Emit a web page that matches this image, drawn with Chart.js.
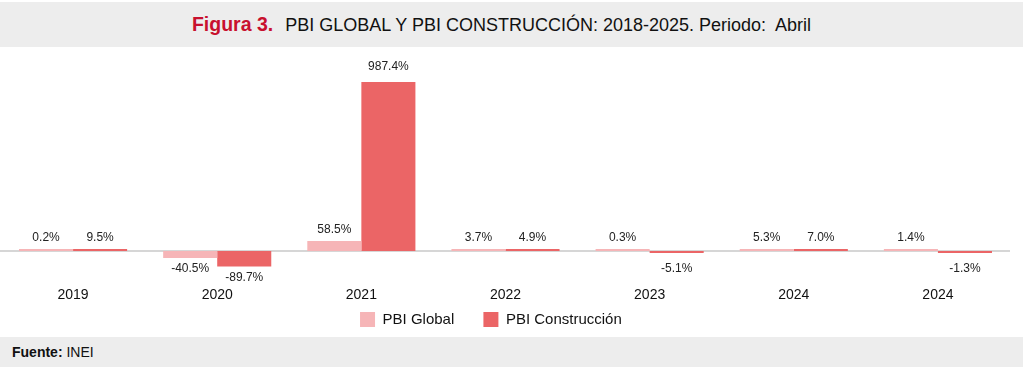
<!DOCTYPE html>
<html>
<head>
<meta charset="utf-8">
<script src="https://cdn.jsdelivr.net/npm/chart.js@4/dist/chart.umd.min.js"></script>
<style>
  html, body { margin: 0; padding: 0; background: #fff; width: 1023px; height: 367px; overflow: hidden; font-family: "Liberation Sans", Arial, sans-serif; }
  #title { position: absolute; left: 0; top: 2px; width: 1003px; padding-right: 20px; height: 45px; background: #ededed; text-align: center; line-height: 45px; font-size: 18px; color: #111; white-space: nowrap; }
  #title .fig { font-weight: bold; color: #c8102e; font-size: 19.5px; margin-right: 12px; }
  #wrap { position: absolute; left: 0; top: 47px; width: 1023px; height: 290px; }
  #footer { position: absolute; left: 0; top: 337px; width: 1023px; height: 30px; background: #ededed; font-size: 14px; line-height: 30px; color: #111; }
  #footer span { margin-left: 12px; }
</style>
</head>
<body>
<div id="title"><span class="fig">Figura 3.</span>PBI GLOBAL Y PBI CONSTRUCCIÓN: 2018-2025. Periodo:&nbsp; Abril</div>
<div id="wrap"><canvas id="c" width="1023" height="290"></canvas></div>
<div id="footer"><span><b>Fuente:</b> INEI</span></div>
<script>
const categories = ["2019", "2020", "2021", "2022", "2023", "2024", "2024"];
const pbiGlobal = [0.2, -40.5, 58.5, 3.7, 0.3, 5.3, 1.4];
const pbiConstruccion = [9.5, -89.7, 987.4, 4.9, -5.1, 7.0, -1.3];
const seriesNames = ["PBI Global", "PBI Construcción"];

const labelPlugin = {
  id: 'valueLabels',
  beforeDatasetsDraw(chart) {
    const ctx = chart.ctx;
    const y0 = chart.scales.y.getPixelForValue(0);
    ctx.save();
    ctx.strokeStyle = '#c8c8c8';
    ctx.lineWidth = 1.5;
    ctx.beginPath();
    ctx.moveTo(0, y0);
    ctx.lineTo(chart.chartArea.right, y0);
    ctx.stroke();
    ctx.restore();
  },
  afterDatasetsDraw(chart) {
    const ctx = chart.ctx;
    const y0 = chart.scales.y.getPixelForValue(0);
    ctx.save();
    ctx.font = '12px "Liberation Sans", Arial, sans-serif';
    ctx.fillStyle = '#222';
    ctx.textAlign = 'center';
    ctx.textBaseline = 'middle';
    chart.data.datasets.forEach((ds, di) => {
      const meta = chart.getDatasetMeta(di);
      meta.data.forEach((bar, i) => {
        const v = ds.data[i];
        const txt = v.toFixed(1) + '%';
        let y;
        if (v >= 0) {
          const h = y0 - bar.y;
          y = Math.min(bar.y, y0 - 2) - (h > 100 ? 15 : 11);
        } else {
          y = Math.max(bar.y + 11, y0 + 18);
        }
        ctx.fillText(txt, bar.x, y);
      });
    });
    ctx.restore();
  }
};

new Chart(document.getElementById('c'), {
  type: 'bar',
  data: {
    labels: categories,
    datasets: [
      { label: seriesNames[0], data: pbiGlobal, backgroundColor: '#f6b5b7', borderWidth: 0, minBarLength: 2 },
      { label: seriesNames[1], data: pbiConstruccion, backgroundColor: '#eb6566', borderWidth: 0, minBarLength: 2 }
    ]
  },
  options: {
    responsive: false,
    animation: false,
    devicePixelRatio: 1,
    layout: { padding: { left: 1, right: 13, top: 12, bottom: 0 } },
    datasets: { bar: { categoryPercentage: 0.75, barPercentage: 1.0 } },
    scales: {
      x: {
        grid: { display: false, drawTicks: false },
        border: { display: false },
        ticks: { color: '#111', font: { size: 14, family: '"Liberation Sans", Arial, sans-serif' }, padding: 8 }
      },
      y: {
        display: false,
        min: -164,
        max: 1122
      }
    },
    plugins: {
      legend: {
        position: 'bottom',
        labels: {
          boxWidth: 15, boxHeight: 15, padding: 0,
          color: '#111',
          font: { size: 15, family: '"Liberation Sans", Arial, sans-serif' },
          generateLabels(chart) {
            const items = Chart.defaults.plugins.legend.labels.generateLabels(chart);
            items.forEach(it => { it.text = it.text + '\u00a0\u00a0\u00a0\u00a0\u00a0\u00a0\u00a0'; });
            return items;
          }
        }
      },
      tooltip: { enabled: false },
      title: { display: false }
    }
  },
  plugins: [labelPlugin]
});
</script>
</body>
</html>
